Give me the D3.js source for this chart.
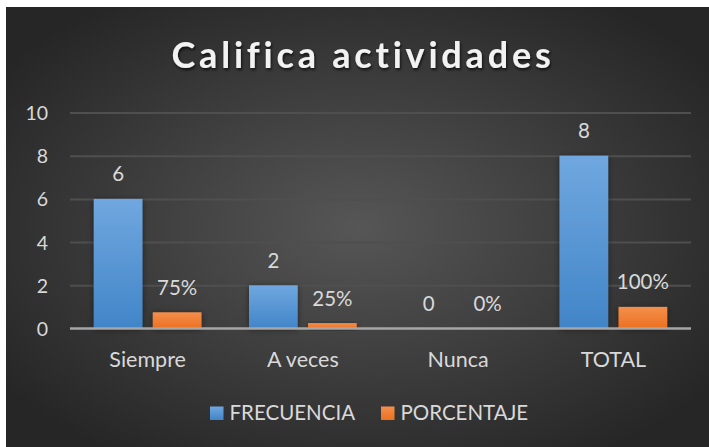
<!DOCTYPE html>
<html>
<head>
<meta charset="utf-8">
<script src="https://cdn.jsdelivr.net/npm/d3@7"></script>
<style>
  html, body { margin: 0; padding: 0; background: #fff; }
  svg { display: block; }
</style>
</head>
<body>
<div id="chart"></div>
<script>
// ---- data ----
const categories = ["Siempre", "A veces", "Nunca", "TOTAL"];
const frecuencia = [6, 2, 0, 8];
const porcentaje = [0.75, 0.25, 0, 1];
const seriesNames = ["FRECUENCIA", "PORCENTAJE"];
const yTicks = [0, 2, 4, 6, 8, 10];

const W = 709, H = 447;
const font = "Lato, 'Open Sans', sans-serif";
const textColor = "#d9d9d9";

const svg = d3.select("#chart").append("svg")
    .attr("width", W)
    .attr("height", H);

const defs = svg.append("defs");

// background radial gradient
const bg = defs.append("radialGradient")
    .attr("id", "bg")
    .attr("cx", "50%").attr("cy", "50%").attr("r", "62%");
bg.append("stop").attr("offset", "0%").attr("stop-color", "#565656");
bg.append("stop").attr("offset", "100%").attr("stop-color", "#262626");

// bar gradients
function barGrad(id, top, bottom) {
    const g = defs.append("linearGradient")
        .attr("id", id)
        .attr("x1", 0).attr("y1", 0).attr("x2", 0).attr("y2", 1);
    g.append("stop").attr("offset", "0%").attr("stop-color", top);
    g.append("stop").attr("offset", "100%").attr("stop-color", bottom);
}
barGrad("gBlue", "#70a7df", "#4185c8");
barGrad("gOrange", "#f48f4c", "#ec7020");

const shadow = defs.append("filter").attr("id", "shadow")
    .attr("x", "-30%").attr("y", "-30%").attr("width", "160%").attr("height", "160%");
shadow.append("feDropShadow")
    .attr("dx", 0).attr("dy", 1).attr("stdDeviation", 3)
    .attr("flood-color", "#000").attr("flood-opacity", 0.45);

const tshadow = defs.append("filter").attr("id", "tshadow")
    .attr("x", "-10%").attr("y", "-30%").attr("width", "120%").attr("height", "160%");
tshadow.append("feDropShadow")
    .attr("dx", 1).attr("dy", 2).attr("stdDeviation", 1.5)
    .attr("flood-color", "#000").attr("flood-opacity", 0.7);

svg.append("rect")
    .attr("x", 6).attr("y", 7)
    .attr("width", W - 6).attr("height", H - 7)
    .attr("fill", "url(#bg)");

// ---- title ----
svg.append("text")
    .attr("x", 363)
    .attr("y", 68)
    .attr("text-anchor", "middle")
    .attr("fill", "#f2f2f2")
    .attr("filter", "url(#tshadow)")
    .style("font-family", font)
    .style("font-weight", "bold")
    .style("font-size", "36px")
    .style("letter-spacing", "3.8px")
    .text("Califica actividades");

// ---- scales ----
const x = d3.scaleBand()
    .domain(categories)
    .range([70, 691])
    .paddingInner(0.306)
    .paddingOuter(0.153);

const xs = d3.scaleBand()
    .domain(seriesNames)
    .range([0, x.bandwidth()])
    .paddingInner(0.175);

const y = d3.scaleLinear()
    .domain([0, 10])
    .range([328.5, 112.5]);

// ---- gridlines ----
const grid = svg.append("g")
    .attr("transform", "translate(70,0)")
    .call(d3.axisLeft(y).tickValues(yTicks).tickSize(-621).tickFormat(""));
grid.select(".domain").remove();
grid.selectAll("line")
    .attr("stroke", "#4f4f4f")
    .attr("stroke-width", 2);
grid.selectAll(".tick").filter(d => d === 0).remove();

// y tick labels
const yAxis = svg.append("g")
    .attr("transform", "translate(48,0)")
    .call(d3.axisLeft(y).tickValues(yTicks).tickSize(0).tickPadding(0));
yAxis.select(".domain").remove();
yAxis.selectAll("text")
    .attr("fill", textColor)
    .attr("dy", "0.36em")
    .style("font-family", font)
    .style("font-size", "19.5px");

// ---- bars ----
const rows = categories.map((c, i) => ({ cat: c, vals: [frecuencia[i], porcentaje[i]] }));
const fills = ["url(#gBlue)", "url(#gOrange)"];
const fmtPct = d3.format(".0%");

const groups = svg.append("g").selectAll("g")
    .data(rows)
    .join("g")
    .attr("transform", d => `translate(${x(d.cat)},0)`);

groups.selectAll("rect")
    .data(d => d.vals.map((v, j) => ({ v, j })))
    .join("rect")
    .attr("x", d => xs(seriesNames[d.j]))
    .attr("width", xs.bandwidth())
    .attr("y", d => y(d.v))
    .attr("height", d => y(0) - y(d.v))
    .attr("fill", d => fills[d.j])
    .attr("filter", "url(#shadow)");

groups.selectAll("text")
    .data(d => d.vals.map((v, j) => ({ v, j })))
    .join("text")
    .attr("x", d => xs(seriesNames[d.j]) + xs.bandwidth() / 2)
    .attr("y", d => y(d.v) - 17.5)
    .attr("text-anchor", "middle")
    .attr("fill", textColor)
    .style("font-family", font)
    .style("font-size", "20.5px")
    .text(d => d.j === 0 ? d.v : fmtPct(d.v));

// ---- x axis ----
svg.append("line")
    .attr("x1", 70).attr("x2", 691)
    .attr("y1", y(0)).attr("y2", y(0))
    .attr("stroke", "#a6a6a6")
    .attr("stroke-width", 2.5);

const xAxis = svg.append("g")
    .attr("transform", `translate(0,${y(0)})`)
    .call(d3.axisBottom(x).tickSize(0).tickPadding(0));
xAxis.select(".domain").remove();
xAxis.selectAll("text")
    .attr("y", 38)
    .attr("dy", 0)
    .attr("fill", textColor)
    .style("font-family", font)
    .style("font-size", "21.5px");

// ---- legend ----
const legend = svg.append("g").selectAll("g")
    .data(seriesNames)
    .join("g")
    .attr("transform", (d, i) => `translate(${i === 0 ? 210 : 381},406.5)`);

legend.append("rect")
    .attr("width", 13.5)
    .attr("height", 13.5)
    .attr("fill", (d, i) => fills[i]);

legend.append("text")
    .attr("x", 19.5)
    .attr("y", 13)
    .attr("fill", textColor)
    .style("font-family", font)
    .style("font-size", "20.5px")
    .text(d => d);
</script>
</body>
</html>
